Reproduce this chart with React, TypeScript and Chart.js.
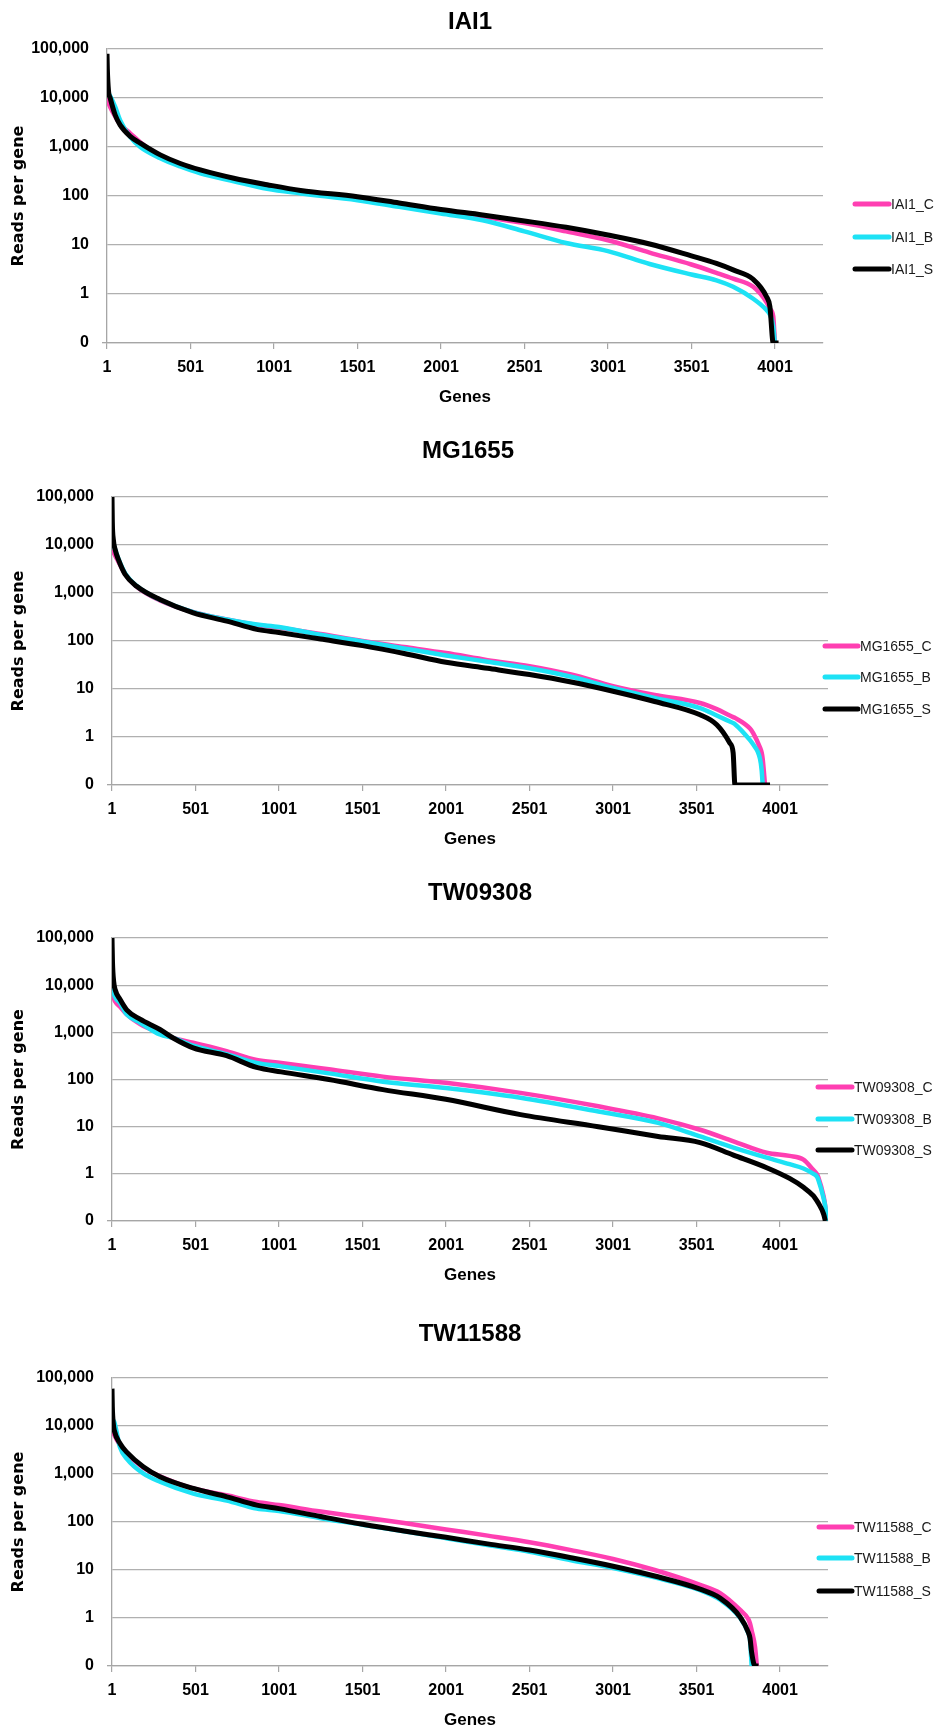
import React, { useEffect, useRef } from 'react';
import { Chart, registerables } from 'chart.js';

Chart.register(...registerables);

// ---------- data ----------
const xTicks = [1, 501, 1001, 1501, 2001, 2501, 3001, 3501, 4001];
const yTicks = [0.1, 1, 10, 100, 1000, 10000, 100000];
const yTickLabels = ['0', '1', '10', '100', '1,000', '10,000', '100,000'];
const seriesColors = ['#ff3fb2', '#1de2f5', '#000000'];

const genesIAI1 = [1, 3, 10, 20, 50, 80, 140, 200, 320, 440, 560, 760, 960, 1160, 1500, 1750, 2000, 2250, 2500, 2750, 3000, 3250, 3500, 3650, 3750, 3870, 3950, 3970, 3990, 4000, 4022];
const iai1C = [10000, 9500, 8000, 6500, 4200, 2900, 1900, 1250, 650, 440, 320, 215, 160, 122, 90, 67, 50, 38, 28, 19, 12.5, 7, 4, 2.7, 2.05, 1.4, 0.68, 0.5, 0.35, 0.1, null];
const iai1B = [13000, 12800, 12500, 11000, 6600, 3500, 1600, 1000, 590, 400, 290, 200, 140, 113, 82, 60, 44, 32, 19, 11, 7.5, 4.1, 2.5, 1.9, 1.4, 0.8, 0.47, 0.38, 0.22, 0.1, null];
const iai1S = [80000, 40000, 14000, 10000, 4500, 2800, 1650, 1200, 690, 460, 340, 230, 170, 130, 97, 72, 53, 41, 31, 23, 16, 10.5, 6, 4.2, 3.1, 2.0, 0.88, 0.55, 0.1, 0.1, 0.1];

const genesMG = [1, 3, 9, 20, 39, 79, 149, 288, 488, 688, 868, 1001, 1250, 1501, 1750, 2001, 2250, 2501, 2750, 3001, 3250, 3522, 3622, 3700, 3720, 3731, 3821, 3840, 3881, 3891, 3897, 3911, 3941];
const mgC = [8000, 7500, 7000, 6000, 4500, 2500, 1350, 700, 400, 280, 215, 190, 140, 100, 75, 56, 40, 30, 20, 11.5, 7.5, 5.1, 3.8, 2.8, 2.6, 2.5, 1.5, 1.2, 0.6, 0.47, 0.35, 0.1, null];
const mgB = [15000, 13000, 11000, 8000, 5200, 2600, 1400, 720, 400, 280, 220, 195, 135, 98, 70, 50, 37, 27, 18, 10.5, 6.5, 4.0, 2.8, 2.1, 1.95, 1.85, 0.86, 0.7, 0.35, 0.2, 0.1, null, null];
const mgS = [100000, 30000, 13000, 8000, 5000, 2460, 1380, 730, 385, 260, 175, 150, 110, 80, 55, 36, 27, 20, 14, 9, 5.5, 2.9, 1.8, 0.75, 0.47, 0.1, 0.1, 0.1, 0.1, 0.1, 0.1, 0.1, 0.1];

const genesTW9 = [1, 4, 11, 20, 49, 89, 169, 288, 367, 487, 687, 867, 1014, 1300, 1623, 2000, 2447, 2913, 3271, 3522, 3722, 3921, 4058, 4141, 4201, 4221, 4230, 4262, 4272, 4282];
const tw9C = [8800, 7000, 5500, 4500, 3500, 2400, 1500, 970, 760, 600, 400, 260, 225, 165, 115, 85, 52, 27, 15, 8.6, 4.9, 2.8, 2.4, 2.0, 1.2, 1.0, 0.85, 0.33, 0.2, 0.1];
const tw9B = [15500, 10000, 7000, 5500, 4200, 2400, 1600, 900, 760, 520, 345, 225, 190, 135, 90, 66, 41, 21, 12, 6.2, 3.6, 2.2, 1.6, 1.3, 1.0, 0.88, 0.75, 0.3, 0.2, 0.1];
const tw9S = [100000, 30000, 12000, 8000, 5000, 3000, 1900, 1150, 760, 470, 320, 180, 145, 100, 61, 38, 18, 10, 6.2, 4.6, 2.5, 1.35, 0.8, 0.52, 0.34, 0.27, 0.24, 0.14, 0.1, null];

const genesTW11 = [1, 3, 9, 15, 49, 89, 188, 288, 488, 688, 868, 1001, 1250, 1501, 1750, 2001, 2250, 2501, 2750, 3001, 3250, 3522, 3642, 3762, 3811, 3821, 3831, 3851, 3862, 3872];
const tw11C = [10000, 8500, 7500, 6500, 4000, 2700, 1350, 900, 500, 360, 260, 225, 165, 125, 95, 70, 52, 38, 26, 17, 10, 4.9, 3.3, 1.47, 0.95, 0.77, 0.55, 0.25, 0.1, null];
const tw11B = [14000, 13500, 13000, 12000, 3600, 2100, 1030, 690, 390, 280, 190, 170, 120, 88, 64, 46, 33, 24, 16, 11, 7, 3.8, 2.4, 1.0, 0.48, 0.35, 0.1, null, null, null];
const tw11S = [60000, 25000, 11000, 8000, 4300, 2850, 1420, 880, 500, 335, 225, 190, 130, 90, 65, 48, 35, 26, 18, 12, 7.5, 4.0, 2.6, 1.05, 0.5, 0.38, 0.19, 0.1, 0.1, 0.1];

const panels = [
  {
    title: 'IAI1', genes: genesIAI1,
    series: [{ name: 'IAI1_C', values: iai1C }, { name: 'IAI1_B', values: iai1B }, { name: 'IAI1_S', values: iai1S }],
    geo: { left: 107, right: 823, top: 49, bottom: 343, titleX: 470, titleY: 22, lx1: 855, lx2: 889, ly: [204, 237, 269] },
  },
  {
    title: 'MG1655', genes: genesMG,
    series: [{ name: 'MG1655_C', values: mgC }, { name: 'MG1655_B', values: mgB }, { name: 'MG1655_S', values: mgS }],
    geo: { left: 112, right: 828, top: 497, bottom: 785, titleX: 468, titleY: 451, lx1: 825, lx2: 858, ly: [646, 677, 709] },
  },
  {
    title: 'TW09308', genes: genesTW9,
    series: [{ name: 'TW09308_C', values: tw9C }, { name: 'TW09308_B', values: tw9B }, { name: 'TW09308_S', values: tw9S }],
    geo: { left: 112, right: 828, top: 938, bottom: 1221, titleX: 480, titleY: 893, lx1: 818, lx2: 852, ly: [1087, 1119, 1150] },
  },
  {
    title: 'TW11588', genes: genesTW11,
    series: [{ name: 'TW11588_C', values: tw11C }, { name: 'TW11588_B', values: tw11B }, { name: 'TW11588_S', values: tw11S }],
    geo: { left: 112, right: 828, top: 1378, bottom: 1666, titleX: 470, titleY: 1334, lx1: 819, lx2: 852, ly: [1527, 1558, 1591] },
  },
];

const WIDTH = 936;
const TICK_FONT = { family: '"Liberation Sans", Arial, sans-serif', size: 16, weight: 'bold' as const };

const decorPlugin = {
  id: 'decor',
  afterDraw(chart: any, _args: any, opts: any) {
    const ctx = chart.ctx;
    ctx.save();
    ctx.fillStyle = '#000';
    ctx.font = 'bold 24px "Liberation Sans", Arial, sans-serif';
    ctx.textAlign = 'center';
    ctx.textBaseline = 'middle';
    ctx.fillText(opts.title, opts.titleX, opts.titleY);
    chart.data.datasets.forEach((ds: any, i: number) => {
      const y = opts.ly[i];
      ctx.strokeStyle = ds.borderColor;
      ctx.lineWidth = 5;
      ctx.lineCap = 'round';
      ctx.beginPath();
      ctx.moveTo(opts.lx1, y);
      ctx.lineTo(opts.lx2, y);
      ctx.stroke();
      ctx.font = '14px "Liberation Sans", Arial, sans-serif';
      ctx.textAlign = 'left';
      ctx.fillStyle = '#1a1a1a';
      ctx.fillText(ds.label, opts.lx2 + 2, y + 1);
    });
    ctx.restore();
  },
};

function Panel({ panel }: { panel: any }) {
  const ref = useRef<HTMLCanvasElement | null>(null);
  const g = panel.geo;
  const canvasTop = Math.max(0, g.top - 60);
  const canvasBottom = g.bottom + 67;
  const height = canvasBottom - canvasTop;

  useEffect(() => {
    if (!ref.current) return;
    const datasets = panel.series.map((s: any, i: number) => ({
      label: s.name,
      data: panel.genes.map((x: number, j: number) => ({ x, y: s.values[j] })),
      borderColor: seriesColors[i],
      backgroundColor: seriesColors[i],
      borderWidth: i === 2 ? 5 : 4.5,
      pointRadius: 0,
      pointHoverRadius: 0,
      cubicInterpolationMode: 'monotone',
      fill: false,
      spanGaps: false,
      order: 3 - i,
    }));
    const chart = new Chart(ref.current, {
      type: 'line',
      data: { datasets },
      options: {
        animation: false,
        responsive: false,
        maintainAspectRatio: false,
        events: [],
        layout: { padding: { top: g.top - canvasTop, right: WIDTH - g.right, bottom: 0, left: 0 } },
        plugins: {
          legend: { display: false },
          title: { display: false },
          tooltip: { enabled: false },
          decor: {
            title: panel.title,
            titleX: g.titleX,
            titleY: g.titleY - canvasTop,
            lx1: g.lx1,
            lx2: g.lx2,
            ly: g.ly.map((v: number) => v - canvasTop),
          },
        } as any,
        scales: {
          x: {
            type: 'linear',
            min: 1,
            max: 4288,
            afterBuildTicks: (s: any) => { s.ticks = xTicks.map((v) => ({ value: v })); },
            afterFit: (s: any) => { s.height = canvasBottom - g.bottom; },
            ticks: {
              autoSkip: false,
              maxRotation: 0,
              padding: 9,
              color: '#000',
              font: TICK_FONT,
              callback: (v: any) => String(v),
            },
            grid: { drawOnChartArea: false, drawTicks: true, tickLength: 6, color: '#a6a6a6', lineWidth: 1.2 },
            border: { display: true, color: '#a6a6a6', width: 1.3 },
            title: {
              display: true,
              text: 'Genes',
              color: '#000',
              font: { family: '"Liberation Sans", Arial, sans-serif', size: 17, weight: 'bold' },
              padding: { top: 0, bottom: 2 },
            },
          },
          y: {
            type: 'logarithmic',
            min: 0.1,
            max: 100000,
            afterBuildTicks: (s: any) => { s.ticks = yTicks.map((v) => ({ value: v })); },
            afterFit: (s: any) => { s.width = g.left; },
            ticks: {
              autoSkip: false,
              padding: 13,
              color: '#000',
              font: TICK_FONT,
              callback: (v: any) => {
                const k = yTicks.indexOf(Number(v));
                return k >= 0 ? yTickLabels[k] : '';
              },
            },
            grid: {
              color: '#b0b0b0',
              lineWidth: 1.3,
              drawTicks: true,
              tickLength: 5,
              tickColor: (c: any) => (c.tick && c.tick.value === 0.1 ? '#a6a6a6' : 'rgba(0,0,0,0)'),
            },
            border: { display: true, color: '#a6a6a6', width: 1.3 },
            title: {
              display: true,
              text: 'Reads per gene',
              color: '#000',
              font: { family: '"DejaVu Sans", sans-serif', size: 16, weight: 'bold' },
              padding: { top: 9, bottom: 0 },
            },
          },
        },
      } as any,
      plugins: [decorPlugin],
    });
    return () => chart.destroy();
  }, []);

  return (
    <canvas
      ref={ref}
      width={WIDTH}
      height={height}
      style={{ position: 'absolute', left: 0, top: canvasTop, width: WIDTH, height }}
    />
  );
}

export default function App() {
  return (
    <div style={{ position: 'absolute', left: 0, top: 0, width: WIDTH, height: 1733, background: '#fff', overflow: 'hidden' }}>
      {panels.map((p) => (
        <Panel key={p.title} panel={p} />
      ))}
    </div>
  );
}
